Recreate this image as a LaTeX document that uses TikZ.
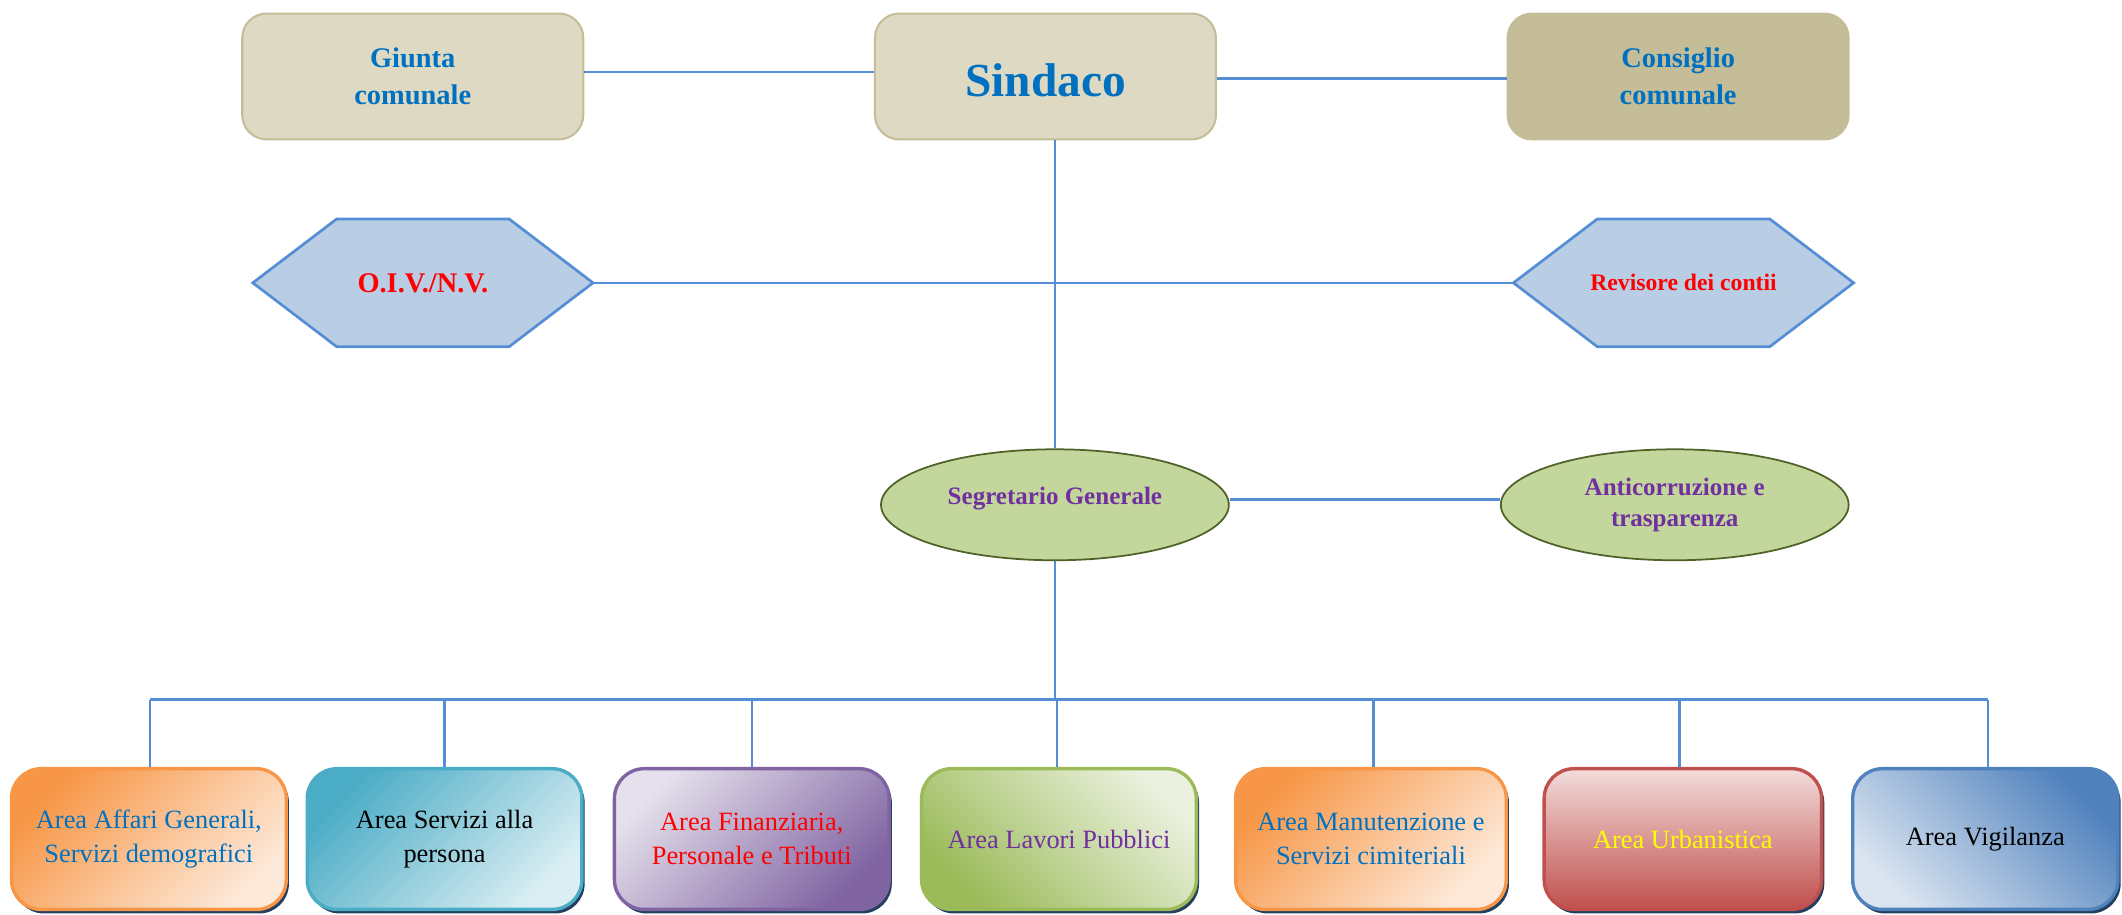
\documentclass[tikz,border=0pt]{standalone}
\usepackage{fontspec}
\setmainfont{Liberation Serif}
\usetikzlibrary{shapes.geometric,shadows,backgrounds}
\definecolor{topfill}{HTML}{DDD9C3}
\definecolor{topborder}{HTML}{C4BD97}
\definecolor{textblue}{HTML}{0070C0}
\definecolor{hexfill}{HTML}{B9CDE5}
\definecolor{hexborder}{HTML}{558ED5}
\definecolor{ellfill}{HTML}{C3D69B}
\definecolor{ellborder}{HTML}{4F6228}
\definecolor{txpurple}{HTML}{7030A0}
\definecolor{linec}{HTML}{558ED5}
\definecolor{shadowc}{HTML}{243F60}
\definecolor{orangeD}{HTML}{F79646}
\definecolor{orangeL}{HTML}{FDE9D9}
\definecolor{tealD}{HTML}{4BACC6}
\definecolor{tealL}{HTML}{DAEEF3}
\definecolor{purpL}{HTML}{E5E0EC}
\definecolor{purpD}{HTML}{8064A2}
\definecolor{greenL}{HTML}{EBF1DE}
\definecolor{greenD}{HTML}{9BBB59}
\definecolor{redL}{HTML}{F2DCDB}
\definecolor{redD}{HTML}{C0504D}
\definecolor{blueL}{HTML}{DBE5F1}
\definecolor{blueD}{HTML}{4F81BD}
\definecolor{txyellow}{HTML}{FFFF00}
\begin{document}
\begin{tikzpicture}[x=1pt,y=-1pt,
  topbox/.style={rectangle, rounded corners=18pt, minimum width=252pt, minimum height=93pt,
    inner sep=0pt, fill=topfill, draw=topborder, line width=1.5pt, align=center,
    text=textblue, font=\bfseries\fontsize{21}{27}\selectfont},
  hexlabel/.style={rectangle, minimum width=251pt, minimum height=94pt, inner sep=0pt,
    text=red, font=\bfseries\fontsize{21}{25}\selectfont},
  hexshape/.style={fill=hexfill, draw=hexborder, line width=2pt, line join=miter},
  ellnode/.style={ellipse, minimum width=257pt, minimum height=82pt, inner sep=0pt,
    fill=ellfill, draw=ellborder, line width=1.3pt, align=center, text=txpurple,
    font=\bfseries\fontsize{18.5}{23}\selectfont},
  areabox/.style={rectangle, rounded corners=22pt, minimum width=203pt, minimum height=104pt,
    inner sep=0pt, line width=2.5pt, align=center, font=\fontsize{19.5}{25}\selectfont,
    drop shadow={fill=shadowc, opacity=1, shadow xshift=2pt, shadow yshift=-3pt}},
  conn/.style={draw=linec, line width=1.8pt}
]
\useasboundingbox (0,0) rectangle (1568,676);

% top row
\node[topbox] (giunta) at (305,56.5) {Giunta\\comunale};
\node[topbox, font=\bfseries\fontsize{35}{40}\selectfont] (sindaco) at (772.5,56.5) {\raisebox{-15pt}[0pt][0pt]{Sindaco}};
\node[topbox, fill=topborder] (consiglio) at (1240,56.5) {Consiglio\\comunale};

% hexagons
\node[hexlabel] (oiv) at (312.5,209) {O.I.V./N.V.};
\node[hexlabel, font=\bfseries\fontsize{17.5}{21}\selectfont] (rev) at (1244,209) {Revisore dei contii};
\begin{pgfonlayer}{background}
\draw[hexshape] (oiv.west) -- ([xshift=62pt]oiv.north west) -- ([xshift=-62pt]oiv.north east)
  -- (oiv.east) -- ([xshift=-62pt]oiv.south east) -- ([xshift=62pt]oiv.south west) -- cycle;
\draw[hexshape] (rev.west) -- ([xshift=62pt]rev.north west) -- ([xshift=-62pt]rev.north east)
  -- (rev.east) -- ([xshift=-62pt]rev.south east) -- ([xshift=62pt]rev.south west) -- cycle;
\end{pgfonlayer}

% ellipses
\node[ellnode] (seg) at (779.5,373) {\raisebox{0pt}[0pt][0pt]{Segretario Generale}};
\node[ellnode] (anti) at (1237.5,373) {Anticorruzione e\\trasparenza};

% areas
\node[areabox, draw=orangeD, top color=orangeD, bottom color=orangeL, shading angle=45, text=textblue]
  (a1) at (110,620) {Area Affari Generali,\\Servizi demografici};
\node[areabox, draw=tealD, top color=tealD, bottom color=tealL, shading angle=45, text=black]
  (a2) at (328.5,620) {Area Servizi alla\\persona};
\node[areabox, draw=purpD, top color=purpL, bottom color=purpD, shading angle=45, text=red]
  (a3) at (555.5,620) {Area Finanziaria,\\Personale e Tributi};
\node[areabox, draw=greenD, top color=greenL, bottom color=greenD, shading angle=-45, text=txpurple]
  (a4) at (782.5,620) {Area Lavori Pubblici};
\node[areabox, draw=orangeD, top color=orangeD, bottom color=orangeL, shading angle=45, text=textblue, minimum width=200pt]
  (a5) at (1013,620) {Area Manutenzione e\\Servizi cimiteriali};
\node[areabox, draw=redD, top color=redL, bottom color=redD, text=txyellow, minimum width=205pt]
  (a6) at (1243.5,620) {Area Urbanistica};
\node[areabox, draw=blueD, top color=blueD, bottom color=blueL, shading angle=-45, text=black, minimum width=196pt]
  (a7) at (1467,620) {Area Vigilanza};

% connectors
\draw[conn] ([yshift=3.5pt]giunta.east) -- ([yshift=3.5pt]sindaco.west);
\draw[conn] ([yshift=-1.5pt]sindaco.east) -- ([yshift=-1.5pt]consiglio.west);
\draw[conn] (seg.north) -- (seg.north |- sindaco.south);
\draw[conn] (oiv.east) -- (rev.west);
\draw[conn] ([yshift=4pt]seg.east) -- ([yshift=4pt]anti.west);
\coordinate (bus) at (780,517);
\draw[conn] (seg.south) -- (seg.south |- bus);
\draw[conn] ([xshift=1pt]a1.north |- bus) -- ([xshift=2pt]a7.north |- bus);
\foreach \n/\dx in {a1/1,a2/0,a3/0,a4/-1.5,a5/2,a6/-2.5,a7/2}{
  \draw[conn] ([xshift=\dx pt]\n.north) -- ([xshift=\dx pt]\n.north |- bus);
}
\end{tikzpicture}
\end{document}
